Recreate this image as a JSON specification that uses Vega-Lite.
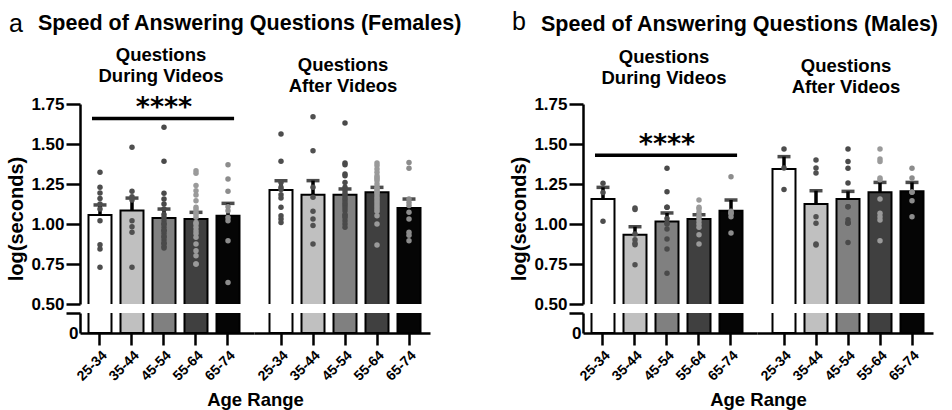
{
"$schema":"https://vega.github.io/schema/vega-lite/v6.json",
"background":"white",
"padding":{"left":5,"top":10,"right":5,"bottom":5},
"datasets":{
"bars":[
{"sex":"F","phase":"During","age":"25-34","mean":1.056,"sem":0.063},
{"sex":"F","phase":"During","age":"35-44","mean":1.085,"sem":0.077},
{"sex":"F","phase":"During","age":"45-54","mean":1.0375,"sem":0.056},
{"sex":"F","phase":"During","age":"55-64","mean":1.031,"sem":0.042},
{"sex":"F","phase":"During","age":"65-74","mean":1.052,"sem":0.077},
{"sex":"F","phase":"After","age":"25-34","mean":1.2125,"sem":0.058},
{"sex":"F","phase":"After","age":"35-44","mean":1.183,"sem":0.088},
{"sex":"F","phase":"After","age":"45-54","mean":1.183,"sem":0.036},
{"sex":"F","phase":"After","age":"55-64","mean":1.198,"sem":0.031},
{"sex":"F","phase":"After","age":"65-74","mean":1.1,"sem":0.056},
{"sex":"M","phase":"During","age":"25-34","mean":1.156,"sem":0.073},
{"sex":"M","phase":"During","age":"35-44","mean":0.933,"sem":0.05},
{"sex":"M","phase":"During","age":"45-54","mean":1.015,"sem":0.054},
{"sex":"M","phase":"During","age":"55-64","mean":1.031,"sem":0.027},
{"sex":"M","phase":"During","age":"65-74","mean":1.083,"sem":0.067},
{"sex":"M","phase":"After","age":"25-34","mean":1.344,"sem":0.077},
{"sex":"M","phase":"After","age":"35-44","mean":1.125,"sem":0.083},
{"sex":"M","phase":"After","age":"45-54","mean":1.156,"sem":0.048},
{"sex":"M","phase":"After","age":"55-64","mean":1.198,"sem":0.062},
{"sex":"M","phase":"After","age":"65-74","mean":1.204,"sem":0.056}
],
"points":[
{"sex":"F","phase":"During","age":"25-34","value":1.323},{"sex":"F","phase":"During","age":"25-34","value":1.229},{"sex":"F","phase":"During","age":"25-34","value":1.194},{"sex":"F","phase":"During","age":"25-34","value":1.16},{"sex":"F","phase":"During","age":"25-34","value":1.125},{"sex":"F","phase":"During","age":"25-34","value":1.094},{"sex":"F","phase":"During","age":"25-34","value":1.021},{"sex":"F","phase":"During","age":"25-34","value":0.871},{"sex":"F","phase":"During","age":"25-34","value":0.844},{"sex":"F","phase":"During","age":"25-34","value":0.729},
{"sex":"F","phase":"During","age":"35-44","value":1.479},{"sex":"F","phase":"During","age":"35-44","value":1.204},{"sex":"F","phase":"During","age":"35-44","value":1.171},{"sex":"F","phase":"During","age":"35-44","value":1.15},{"sex":"F","phase":"During","age":"35-44","value":1.021},{"sex":"F","phase":"During","age":"35-44","value":0.983},{"sex":"F","phase":"During","age":"35-44","value":0.948},{"sex":"F","phase":"During","age":"35-44","value":0.729},
{"sex":"F","phase":"During","age":"45-54","value":1.604},{"sex":"F","phase":"During","age":"45-54","value":1.392},{"sex":"F","phase":"During","age":"45-54","value":1.192},{"sex":"F","phase":"During","age":"45-54","value":1.156},{"sex":"F","phase":"During","age":"45-54","value":1.125},{"sex":"F","phase":"During","age":"45-54","value":1.094},{"sex":"F","phase":"During","age":"45-54","value":1.06},{"sex":"F","phase":"During","age":"45-54","value":1.04},{"sex":"F","phase":"During","age":"45-54","value":1.02},{"sex":"F","phase":"During","age":"45-54","value":1.0},{"sex":"F","phase":"During","age":"45-54","value":0.98},{"sex":"F","phase":"During","age":"45-54","value":0.96},{"sex":"F","phase":"During","age":"45-54","value":0.94},{"sex":"F","phase":"During","age":"45-54","value":0.92},{"sex":"F","phase":"During","age":"45-54","value":0.9},{"sex":"F","phase":"During","age":"45-54","value":0.88},{"sex":"F","phase":"During","age":"45-54","value":0.86},{"sex":"F","phase":"During","age":"45-54","value":0.85},{"sex":"F","phase":"During","age":"45-54","value":1.0},{"sex":"F","phase":"During","age":"45-54","value":0.96},{"sex":"F","phase":"During","age":"45-54","value":0.92},{"sex":"F","phase":"During","age":"45-54","value":0.88},
{"sex":"F","phase":"During","age":"55-64","value":1.333},{"sex":"F","phase":"During","age":"55-64","value":1.317},{"sex":"F","phase":"During","age":"55-64","value":1.24},{"sex":"F","phase":"During","age":"55-64","value":1.208},{"sex":"F","phase":"During","age":"55-64","value":1.181},{"sex":"F","phase":"During","age":"55-64","value":1.146},{"sex":"F","phase":"During","age":"55-64","value":1.104},{"sex":"F","phase":"During","age":"55-64","value":1.073},{"sex":"F","phase":"During","age":"55-64","value":1.042},{"sex":"F","phase":"During","age":"55-64","value":1.01},{"sex":"F","phase":"During","age":"55-64","value":0.958},{"sex":"F","phase":"During","age":"55-64","value":0.917},{"sex":"F","phase":"During","age":"55-64","value":0.875},{"sex":"F","phase":"During","age":"55-64","value":0.833},{"sex":"F","phase":"During","age":"55-64","value":0.802},{"sex":"F","phase":"During","age":"55-64","value":0.75},{"sex":"F","phase":"During","age":"55-64","value":0.75},{"sex":"F","phase":"During","age":"55-64","value":1.06},{"sex":"F","phase":"During","age":"55-64","value":1.0},{"sex":"F","phase":"During","age":"55-64","value":0.98},{"sex":"F","phase":"During","age":"55-64","value":0.94},{"sex":"F","phase":"During","age":"55-64","value":1.09},
{"sex":"F","phase":"During","age":"65-74","value":1.371},{"sex":"F","phase":"During","age":"65-74","value":1.281},{"sex":"F","phase":"During","age":"65-74","value":1.204},{"sex":"F","phase":"During","age":"65-74","value":1.108},{"sex":"F","phase":"During","age":"65-74","value":1.083},{"sex":"F","phase":"During","age":"65-74","value":1.04},{"sex":"F","phase":"During","age":"65-74","value":1.02},{"sex":"F","phase":"During","age":"65-74","value":0.896},{"sex":"F","phase":"During","age":"65-74","value":0.635},
{"sex":"F","phase":"After","age":"25-34","value":1.563},{"sex":"F","phase":"After","age":"25-34","value":1.392},{"sex":"F","phase":"After","age":"25-34","value":1.26},{"sex":"F","phase":"After","age":"25-34","value":1.229},{"sex":"F","phase":"After","age":"25-34","value":1.215},{"sex":"F","phase":"After","age":"25-34","value":1.183},{"sex":"F","phase":"After","age":"25-34","value":1.163},{"sex":"F","phase":"After","age":"25-34","value":1.104},{"sex":"F","phase":"After","age":"25-34","value":1.052},{"sex":"F","phase":"After","age":"25-34","value":1.031},{"sex":"F","phase":"After","age":"25-34","value":1.01},
{"sex":"F","phase":"After","age":"35-44","value":1.671},{"sex":"F","phase":"After","age":"35-44","value":1.458},{"sex":"F","phase":"After","age":"35-44","value":1.229},{"sex":"F","phase":"After","age":"35-44","value":1.167},{"sex":"F","phase":"After","age":"35-44","value":1.079},{"sex":"F","phase":"After","age":"35-44","value":1.031},{"sex":"F","phase":"After","age":"35-44","value":0.99},{"sex":"F","phase":"After","age":"35-44","value":0.875},
{"sex":"F","phase":"After","age":"45-54","value":1.631},{"sex":"F","phase":"After","age":"45-54","value":1.381},{"sex":"F","phase":"After","age":"45-54","value":1.371},{"sex":"F","phase":"After","age":"45-54","value":1.313},{"sex":"F","phase":"After","age":"45-54","value":1.302},{"sex":"F","phase":"After","age":"45-54","value":1.26},{"sex":"F","phase":"After","age":"45-54","value":1.229},{"sex":"F","phase":"After","age":"45-54","value":1.208},{"sex":"F","phase":"After","age":"45-54","value":1.177},{"sex":"F","phase":"After","age":"45-54","value":1.146},{"sex":"F","phase":"After","age":"45-54","value":1.115},{"sex":"F","phase":"After","age":"45-54","value":1.083},{"sex":"F","phase":"After","age":"45-54","value":1.052},{"sex":"F","phase":"After","age":"45-54","value":1.021},{"sex":"F","phase":"After","age":"45-54","value":1.0},{"sex":"F","phase":"After","age":"45-54","value":0.979},{"sex":"F","phase":"After","age":"45-54","value":1.19},{"sex":"F","phase":"After","age":"45-54","value":1.16},{"sex":"F","phase":"After","age":"45-54","value":1.13},{"sex":"F","phase":"After","age":"45-54","value":1.1},{"sex":"F","phase":"After","age":"45-54","value":1.06},{"sex":"F","phase":"After","age":"45-54","value":1.04},
{"sex":"F","phase":"After","age":"55-64","value":1.381},{"sex":"F","phase":"After","age":"55-64","value":1.365},{"sex":"F","phase":"After","age":"55-64","value":1.344},{"sex":"F","phase":"After","age":"55-64","value":1.323},{"sex":"F","phase":"After","age":"55-64","value":1.302},{"sex":"F","phase":"After","age":"55-64","value":1.29},{"sex":"F","phase":"After","age":"55-64","value":1.281},{"sex":"F","phase":"After","age":"55-64","value":1.25},{"sex":"F","phase":"After","age":"55-64","value":1.219},{"sex":"F","phase":"After","age":"55-64","value":1.208},{"sex":"F","phase":"After","age":"55-64","value":1.188},{"sex":"F","phase":"After","age":"55-64","value":1.156},{"sex":"F","phase":"After","age":"55-64","value":1.125},{"sex":"F","phase":"After","age":"55-64","value":1.094},{"sex":"F","phase":"After","age":"55-64","value":1.052},{"sex":"F","phase":"After","age":"55-64","value":1.0},{"sex":"F","phase":"After","age":"55-64","value":0.869},{"sex":"F","phase":"After","age":"55-64","value":1.23},{"sex":"F","phase":"After","age":"55-64","value":1.2},{"sex":"F","phase":"After","age":"55-64","value":1.17},{"sex":"F","phase":"After","age":"55-64","value":1.14},{"sex":"F","phase":"After","age":"55-64","value":1.11},{"sex":"F","phase":"After","age":"55-64","value":1.27},{"sex":"F","phase":"After","age":"55-64","value":1.08},
{"sex":"F","phase":"After","age":"65-74","value":1.385},{"sex":"F","phase":"After","age":"65-74","value":1.348},{"sex":"F","phase":"After","age":"65-74","value":1.156},{"sex":"F","phase":"After","age":"65-74","value":1.135},{"sex":"F","phase":"After","age":"65-74","value":1.115},{"sex":"F","phase":"After","age":"65-74","value":1.073},{"sex":"F","phase":"After","age":"65-74","value":1.031},{"sex":"F","phase":"After","age":"65-74","value":0.948},{"sex":"F","phase":"After","age":"65-74","value":0.896},{"sex":"F","phase":"After","age":"65-74","value":0.93},
{"sex":"M","phase":"During","age":"25-34","value":1.254},{"sex":"M","phase":"During","age":"25-34","value":1.197},{"sex":"M","phase":"During","age":"25-34","value":1.017},
{"sex":"M","phase":"During","age":"35-44","value":1.1},{"sex":"M","phase":"During","age":"35-44","value":1.09},{"sex":"M","phase":"During","age":"35-44","value":0.938},{"sex":"M","phase":"During","age":"35-44","value":0.902},{"sex":"M","phase":"During","age":"35-44","value":0.871},{"sex":"M","phase":"During","age":"35-44","value":0.746},{"sex":"M","phase":"During","age":"35-44","value":0.88},
{"sex":"M","phase":"During","age":"45-54","value":1.348},{"sex":"M","phase":"During","age":"45-54","value":1.202},{"sex":"M","phase":"During","age":"45-54","value":1.104},{"sex":"M","phase":"During","age":"45-54","value":1.104},{"sex":"M","phase":"During","age":"45-54","value":1.035},{"sex":"M","phase":"During","age":"45-54","value":1.006},{"sex":"M","phase":"During","age":"45-54","value":0.969},{"sex":"M","phase":"During","age":"45-54","value":0.906},{"sex":"M","phase":"During","age":"45-54","value":0.844},{"sex":"M","phase":"During","age":"45-54","value":0.692},{"sex":"M","phase":"During","age":"45-54","value":1.0},
{"sex":"M","phase":"During","age":"55-64","value":1.15},{"sex":"M","phase":"During","age":"55-64","value":1.104},{"sex":"M","phase":"During","age":"55-64","value":1.094},{"sex":"M","phase":"During","age":"55-64","value":1.073},{"sex":"M","phase":"During","age":"55-64","value":1.052},{"sex":"M","phase":"During","age":"55-64","value":1.021},{"sex":"M","phase":"During","age":"55-64","value":0.979},{"sex":"M","phase":"During","age":"55-64","value":0.933},{"sex":"M","phase":"During","age":"55-64","value":0.875},{"sex":"M","phase":"During","age":"55-64","value":1.04},{"sex":"M","phase":"During","age":"55-64","value":1.0},
{"sex":"M","phase":"During","age":"65-74","value":1.296},{"sex":"M","phase":"During","age":"65-74","value":1.067},{"sex":"M","phase":"During","age":"65-74","value":1.067},{"sex":"M","phase":"During","age":"65-74","value":1.046},{"sex":"M","phase":"During","age":"65-74","value":0.944},{"sex":"M","phase":"During","age":"65-74","value":1.08},
{"sex":"M","phase":"After","age":"25-34","value":1.469},{"sex":"M","phase":"After","age":"25-34","value":1.215},{"sex":"M","phase":"After","age":"25-34","value":1.35},
{"sex":"M","phase":"After","age":"35-44","value":1.4},{"sex":"M","phase":"After","age":"35-44","value":1.35},{"sex":"M","phase":"After","age":"35-44","value":1.319},{"sex":"M","phase":"After","age":"35-44","value":1.046},{"sex":"M","phase":"After","age":"35-44","value":1.004},{"sex":"M","phase":"After","age":"35-44","value":0.869},{"sex":"M","phase":"After","age":"35-44","value":0.875},
{"sex":"M","phase":"After","age":"45-54","value":1.469},{"sex":"M","phase":"After","age":"45-54","value":1.39},{"sex":"M","phase":"After","age":"45-54","value":1.348},{"sex":"M","phase":"After","age":"45-54","value":1.256},{"sex":"M","phase":"After","age":"45-54","value":1.108},{"sex":"M","phase":"After","age":"45-54","value":1.108},{"sex":"M","phase":"After","age":"45-54","value":1.027},{"sex":"M","phase":"After","age":"45-54","value":1.006},{"sex":"M","phase":"After","age":"45-54","value":1.006},{"sex":"M","phase":"After","age":"45-54","value":1.006},{"sex":"M","phase":"After","age":"45-54","value":0.885},
{"sex":"M","phase":"After","age":"55-64","value":1.469},{"sex":"M","phase":"After","age":"55-64","value":1.406},{"sex":"M","phase":"After","age":"55-64","value":1.39},{"sex":"M","phase":"After","age":"55-64","value":1.288},{"sex":"M","phase":"After","age":"55-64","value":1.277},{"sex":"M","phase":"After","age":"55-64","value":1.156},{"sex":"M","phase":"After","age":"55-64","value":1.067},{"sex":"M","phase":"After","age":"55-64","value":1.046},{"sex":"M","phase":"After","age":"55-64","value":1.025},{"sex":"M","phase":"After","age":"55-64","value":0.896},
{"sex":"M","phase":"After","age":"65-74","value":1.348},{"sex":"M","phase":"After","age":"65-74","value":1.288},{"sex":"M","phase":"After","age":"65-74","value":1.198},{"sex":"M","phase":"After","age":"65-74","value":1.146},{"sex":"M","phase":"After","age":"65-74","value":1.046},{"sex":"M","phase":"After","age":"65-74","value":1.2}
]
},
"hconcat":[
{"title":{"text":"a","fontSize":25,"fontWeight":"normal","anchor":"start","frame":"group","dx":-71,"dy":24.5,"offset":0},
 "bounds":"flush",
 "vconcat":[
 {"title":{"text":"Speed of Answering Questions (Females)","fontSize":21.5,"anchor":"start","frame":"group","dx":-42,"offset":11.5},
  "columns":2,"spacing":{"row":9,"column":0},"bounds":"flush",
  "concat":[
  {"width":174,"height":200,"title":{"text":["Questions","During Videos"],"dx":-6,"offset":9},
   "layer":[
    {"data":{"name":"bars"},"transform":[{"filter":"datum.sex==='F' && datum.phase==='During'"}],
     "mark":{"type":"errorbar","ticks":true,"size":13,"thickness":3.5,"color":"black"},
     "encoding":{"x":{"field":"age","type":"nominal","scale":{"domain":["25-34","35-44","45-54","55-64","65-74"],"paddingInner":0,"paddingOuter":0.21875,"align":0.2857},"axis":null},
      "y":{"field":"mean","type":"quantitative","scale":{"domain":[0.5,1.75],"nice":false,"zero":false},"axis":{"title":"log(seconds)","values":[0.5,0.75,1,1.25,1.5,1.75],"tickCount":20,"format":".2f","labelOverlap":false,"titleX":-64,"titleY":114.5,"titleBaseline":"middle","titleAlign":"center"}},
      "yError":{"field":"sem"}}},
    {"data":{"name":"bars"},"transform":[{"filter":"datum.sex==='F' && datum.phase==='During'"}],
     "mark":{"type":"bar","size":23,"stroke":"black","strokeWidth":2,"clip":true},
     "encoding":{"x":{"field":"age","type":"nominal"},"y":{"field":"mean","type":"quantitative"},"y2":{"datum":0},
      "fill":{"field":"age","type":"nominal","scale":{"domain":["25-34","35-44","45-54","55-64","65-74"],"range":["#ffffff","#c0c0c0","#808080","#404040","#050505"]},"legend":null}}},
    {"data":{"name":"points"},"transform":[{"filter":"datum.sex==='F' && datum.phase==='During'"}],
     "mark":{"type":"circle","size":30,"opacity":1},
     "encoding":{"x":{"field":"age","type":"nominal"},"y":{"field":"value","type":"quantitative"},
      "color":{"field":"age","type":"nominal","scale":{"domain":["25-34","35-44","45-54","55-64","65-74"],"range":["#4d4d4d","#505050","#4a4a4a","#9a9a9a","#8c8c8c"]},"legend":null}}},
    {"data":{"values":[{}]},"mark":{"type":"rule","strokeWidth":3.5,"color":"black"},
     "encoding":{"x":{"datum":"25-34","bandPosition":0.25},"x2":{"datum":"65-74","bandPosition":0.69},"y":{"datum":1.66}}},
    {"data":{"values":[{}]},"mark":{"type":"text","text":"****","font":"DejaVu Sans","fontWeight":"bold","fontSize":27,"baseline":"alphabetic","align":"center","color":"black"},
     "encoding":{"x":{"datum":"45-54"},"y":{"datum":1.672}}}
   ]},
  {"width":176,"height":200,"title":{"text":["Questions","After Videos"],"dx":1,"offset":9},
   "layer":[
    {"data":{"name":"bars"},"transform":[{"filter":"datum.sex==='F' && datum.phase==='After'"}],
     "mark":{"type":"errorbar","ticks":true,"size":13,"thickness":3.5,"color":"black"},
     "encoding":{"x":{"field":"age","type":"nominal","scale":{"domain":["25-34","35-44","45-54","55-64","65-74"],"paddingInner":0,"paddingOuter":0.25,"align":0.6875},"axis":null},
      "y":{"field":"mean","type":"quantitative","scale":{"domain":[0.5,1.75],"nice":false,"zero":false},"axis":null},
      "yError":{"field":"sem"}}},
    {"data":{"name":"bars"},"transform":[{"filter":"datum.sex==='F' && datum.phase==='After'"}],
     "mark":{"type":"bar","size":23,"stroke":"black","strokeWidth":2,"clip":true},
     "encoding":{"x":{"field":"age","type":"nominal"},"y":{"field":"mean","type":"quantitative"},"y2":{"datum":0},
      "fill":{"field":"age","type":"nominal","scale":{"domain":["25-34","35-44","45-54","55-64","65-74"],"range":["#ffffff","#c0c0c0","#808080","#404040","#050505"]},"legend":null}}},
    {"data":{"name":"points"},"transform":[{"filter":"datum.sex==='F' && datum.phase==='After'"}],
     "mark":{"type":"circle","size":30,"opacity":1},
     "encoding":{"x":{"field":"age","type":"nominal"},"y":{"field":"value","type":"quantitative"},
      "color":{"field":"age","type":"nominal","scale":{"domain":["25-34","35-44","45-54","55-64","65-74"],"range":["#4d4d4d","#505050","#4a4a4a","#9a9a9a","#8c8c8c"]},"legend":null}}}
   ]},
  {"width":174,"height":20,"data":{"name":"bars"},"transform":[{"filter":"datum.sex==='F' && datum.phase==='During'"}],
   "mark":{"type":"bar","size":23,"stroke":"black","strokeWidth":2,"clip":true},
   "encoding":{"x":{"field":"age","type":"nominal","scale":{"domain":["25-34","35-44","45-54","55-64","65-74"],"paddingInner":0,"paddingOuter":0.21875,"align":0.2857},"axis":{"title":"Age Range","titleX":175,"titleY":72,"titleBaseline":"alphabetic","titleAlign":"center"}},
    "y":{"field":"mean","type":"quantitative","scale":{"domain":[0,0.1],"nice":false},"axis":{"title":null,"values":[0,0.1],"tickCount":20,"labelOverlap":false,"labelExpr":"datum.value===0 ? '0' : ''","labelPadding":-12,"tickOpacity":{"condition":{"test":"datum.value===0","value":0},"value":1}}},
    "y2":{"datum":0},
    "fill":{"field":"age","type":"nominal","scale":{"domain":["25-34","35-44","45-54","55-64","65-74"],"range":["#ffffff","#c0c0c0","#808080","#404040","#050505"]},"legend":null}}},
  {"width":176,"height":20,"data":{"name":"bars"},"transform":[{"filter":"datum.sex==='F' && datum.phase==='After'"}],
   "mark":{"type":"bar","size":23,"stroke":"black","strokeWidth":2,"clip":true},
   "encoding":{"x":{"field":"age","type":"nominal","scale":{"domain":["25-34","35-44","45-54","55-64","65-74"],"paddingInner":0,"paddingOuter":0.25,"align":0.6875},"axis":{"title":null}},
    "y":{"field":"mean","type":"quantitative","scale":{"domain":[0,0.1],"nice":false},"axis":null},
    "y2":{"datum":0},
    "fill":{"field":"age","type":"nominal","scale":{"domain":["25-34","35-44","45-54","55-64","65-74"],"range":["#ffffff","#c0c0c0","#808080","#404040","#050505"]},"legend":null}}}
  ]}
 ]},
{"title":{"text":"b","fontSize":25,"fontWeight":"normal","anchor":"start","frame":"group","dx":-71,"dy":21.5,"offset":0},
 "bounds":"flush",
 "vconcat":[
 {"title":{"text":"Speed of Answering Questions (Males)","fontSize":21.5,"anchor":"start","frame":"group","dx":-42,"offset":13},
  "columns":2,"spacing":{"row":9,"column":0},"bounds":"flush",
  "concat":[
  {"width":174,"height":200,"title":{"text":["Questions","During Videos"],"dx":-6,"offset":7.5},
   "layer":[
    {"data":{"name":"bars"},"transform":[{"filter":"datum.sex==='M' && datum.phase==='During'"}],
     "mark":{"type":"errorbar","ticks":true,"size":13,"thickness":3.5,"color":"black"},
     "encoding":{"x":{"field":"age","type":"nominal","scale":{"domain":["25-34","35-44","45-54","55-64","65-74"],"paddingInner":0,"paddingOuter":0.21875,"align":0.2857},"axis":null},
      "y":{"field":"mean","type":"quantitative","scale":{"domain":[0.5,1.75],"nice":false,"zero":false},"axis":{"title":"log(seconds)","values":[0.5,0.75,1,1.25,1.5,1.75],"tickCount":20,"format":".2f","labelOverlap":false,"titleX":-64,"titleY":114.5,"titleBaseline":"middle","titleAlign":"center"}},
      "yError":{"field":"sem"}}},
    {"data":{"name":"bars"},"transform":[{"filter":"datum.sex==='M' && datum.phase==='During'"}],
     "mark":{"type":"bar","size":23,"stroke":"black","strokeWidth":2,"clip":true},
     "encoding":{"x":{"field":"age","type":"nominal"},"y":{"field":"mean","type":"quantitative"},"y2":{"datum":0},
      "fill":{"field":"age","type":"nominal","scale":{"domain":["25-34","35-44","45-54","55-64","65-74"],"range":["#ffffff","#c0c0c0","#808080","#404040","#050505"]},"legend":null}}},
    {"data":{"name":"points"},"transform":[{"filter":"datum.sex==='M' && datum.phase==='During'"}],
     "mark":{"type":"circle","size":30,"opacity":1},
     "encoding":{"x":{"field":"age","type":"nominal"},"y":{"field":"value","type":"quantitative"},
      "color":{"field":"age","type":"nominal","scale":{"domain":["25-34","35-44","45-54","55-64","65-74"],"range":["#5a5a5a","#6a6a6a","#555555","#8a8a8a","#8c8c8c"]},"legend":null}}},
    {"data":{"values":[{}]},"mark":{"type":"rule","strokeWidth":3.5,"color":"black"},
     "encoding":{"x":{"datum":"25-34","bandPosition":0.25},"x2":{"datum":"65-74","bandPosition":0.69},"y":{"datum":1.429}}},
    {"data":{"values":[{}]},"mark":{"type":"text","text":"****","font":"DejaVu Sans","fontWeight":"bold","fontSize":27,"baseline":"alphabetic","align":"center","color":"black"},
     "encoding":{"x":{"datum":"45-54"},"y":{"datum":1.441}}}
   ]},
  {"width":176,"height":200,"title":{"text":["Questions","After Videos"],"dx":1,"offset":7.5},
   "layer":[
    {"data":{"name":"bars"},"transform":[{"filter":"datum.sex==='M' && datum.phase==='After'"}],
     "mark":{"type":"errorbar","ticks":true,"size":13,"thickness":3.5,"color":"black"},
     "encoding":{"x":{"field":"age","type":"nominal","scale":{"domain":["25-34","35-44","45-54","55-64","65-74"],"paddingInner":0,"paddingOuter":0.25,"align":0.6875},"axis":null},
      "y":{"field":"mean","type":"quantitative","scale":{"domain":[0.5,1.75],"nice":false,"zero":false},"axis":null},
      "yError":{"field":"sem"}}},
    {"data":{"name":"bars"},"transform":[{"filter":"datum.sex==='M' && datum.phase==='After'"}],
     "mark":{"type":"bar","size":23,"stroke":"black","strokeWidth":2,"clip":true},
     "encoding":{"x":{"field":"age","type":"nominal"},"y":{"field":"mean","type":"quantitative"},"y2":{"datum":0},
      "fill":{"field":"age","type":"nominal","scale":{"domain":["25-34","35-44","45-54","55-64","65-74"],"range":["#ffffff","#c0c0c0","#808080","#404040","#050505"]},"legend":null}}},
    {"data":{"name":"points"},"transform":[{"filter":"datum.sex==='M' && datum.phase==='After'"}],
     "mark":{"type":"circle","size":30,"opacity":1},
     "encoding":{"x":{"field":"age","type":"nominal"},"y":{"field":"value","type":"quantitative"},
      "color":{"field":"age","type":"nominal","scale":{"domain":["25-34","35-44","45-54","55-64","65-74"],"range":["#5a5a5a","#6a6a6a","#555555","#8a8a8a","#8c8c8c"]},"legend":null}}}
   ]},
  {"width":174,"height":20,"data":{"name":"bars"},"transform":[{"filter":"datum.sex==='M' && datum.phase==='During'"}],
   "mark":{"type":"bar","size":23,"stroke":"black","strokeWidth":2,"clip":true},
   "encoding":{"x":{"field":"age","type":"nominal","scale":{"domain":["25-34","35-44","45-54","55-64","65-74"],"paddingInner":0,"paddingOuter":0.21875,"align":0.2857},"axis":{"title":"Age Range","titleX":175,"titleY":72,"titleBaseline":"alphabetic","titleAlign":"center"}},
    "y":{"field":"mean","type":"quantitative","scale":{"domain":[0,0.1],"nice":false},"axis":{"title":null,"values":[0,0.1],"tickCount":20,"labelOverlap":false,"labelExpr":"datum.value===0 ? '0' : ''","labelPadding":-12,"tickOpacity":{"condition":{"test":"datum.value===0","value":0},"value":1}}},
    "y2":{"datum":0},
    "fill":{"field":"age","type":"nominal","scale":{"domain":["25-34","35-44","45-54","55-64","65-74"],"range":["#ffffff","#c0c0c0","#808080","#404040","#050505"]},"legend":null}}},
  {"width":176,"height":20,"data":{"name":"bars"},"transform":[{"filter":"datum.sex==='M' && datum.phase==='After'"}],
   "mark":{"type":"bar","size":23,"stroke":"black","strokeWidth":2,"clip":true},
   "encoding":{"x":{"field":"age","type":"nominal","scale":{"domain":["25-34","35-44","45-54","55-64","65-74"],"paddingInner":0,"paddingOuter":0.25,"align":0.6875},"axis":{"title":null}},
    "y":{"field":"mean","type":"quantitative","scale":{"domain":[0,0.1],"nice":false},"axis":null},
    "y2":{"datum":0},
    "fill":{"field":"age","type":"nominal","scale":{"domain":["25-34","35-44","45-54","55-64","65-74"],"range":["#ffffff","#c0c0c0","#808080","#404040","#050505"]},"legend":null}}}
  ]}
 ]}
],
"spacing":45,
"bounds":"full",
"config":{
 "view":{"stroke":null},
 "font":"Liberation Sans",
 "axis":{"domainColor":"black","domainWidth":2.5,"tickColor":"black","tickWidth":2.5,"labelColor":"black","labelFont":"Liberation Sans","labelFontWeight":"bold","titleFont":"Liberation Sans","titleFontWeight":"bold","titleColor":"black","grid":false,"labelOverlap":false},
 "axisY":{"labelFontSize":17,"tickSize":14,"labelPadding":2,"titleFontSize":20},
 "axisX":{"labelFontSize":14,"labelAngle":-45,"tickSize":12,"labelPadding":3,"titleFontSize":18.5},
 "title":{"font":"Liberation Sans","fontWeight":"bold","fontSize":18.5,"color":"black","lineHeight":21,"anchor":"middle","offset":9}
}
}
